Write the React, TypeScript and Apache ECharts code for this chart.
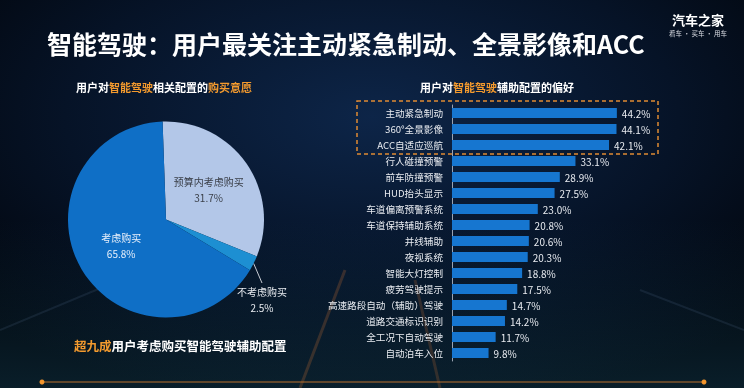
import React, { useEffect, useRef } from "react";
import * as echarts from "echarts";

const pieNames = ["预算内考虑购买", "不考虑购买", "考虑购买"];
const pieValues = [31.7, 2.5, 65.8];
const pieColors = ["#b3c7e8", "#1d8fd2", "#0f6fc6"];

const barCategories = [
  "主动紧急制动",
  "360°全景影像",
  "ACC自适应巡航",
  "行人碰撞预警",
  "前车防撞预警",
  "HUD抬头显示",
  "车道偏离预警系统",
  "车道保持辅助系统",
  "并线辅助",
  "夜视系统",
  "智能大灯控制",
  "疲劳驾驶提示",
  "高速路段自动（辅助）驾驶",
  "道路交通标识识别",
  "全工况下自动驾驶",
  "自动泊车入位",
];
const barValues = [44.2, 44.1, 42.1, 33.1, 28.9, 27.5, 23.0, 20.8, 20.6, 20.3, 18.8, 17.5, 14.7, 14.2, 11.7, 9.8];

const FONT = '"Noto Sans CJK SC", "Noto Sans", sans-serif';
const ORANGE = "#f39a2e";

export default function App() {
  const ref = useRef<HTMLDivElement>(null);
  useEffect(() => {
    if (!ref.current) return;
    const chart = echarts.init(ref.current, undefined, { renderer: "svg" });
    chart.setOption({
      animation: false,
      backgroundColor: {
        type: "radial",
        x: 0.5,
        y: 0.3,
        r: 0.75,
        colorStops: [
          { offset: 0, color: "#0d2548" },
          { offset: 0.55, color: "#061327" },
          { offset: 1, color: "#010307" },
        ],
      },
      textStyle: { fontFamily: FONT },
      graphic: [
        {
          type: "rect",
          silent: true,
          z: -10,
          shape: { x: 0, y: 220, width: 744, height: 168 },
          style: {
            fill: {
              type: "linear",
              x: 0,
              y: 0,
              x2: 0,
              y2: 1,
              colorStops: [
                { offset: 0, color: "rgba(20,70,100,0)" },
                { offset: 1, color: "rgba(25,80,105,0.35)" },
              ],
            },
          },
        },
        { type: "line", silent: true, z: -9, shape: { x1: 300, y1: 388, x2: 345, y2: 270 }, style: { stroke: "rgba(200,110,50,0.25)", lineWidth: 3 } },
        { type: "line", silent: true, z: -9, shape: { x1: 440, y1: 388, x2: 415, y2: 280 }, style: { stroke: "rgba(200,110,50,0.22)", lineWidth: 3 } },
        { type: "line", silent: true, z: -9, shape: { x1: 0, y1: 330, x2: 120, y2: 280 }, style: { stroke: "rgba(120,160,200,0.12)", lineWidth: 2 } },
        { type: "line", silent: true, z: -9, shape: { x1: 744, y1: 330, x2: 640, y2: 290 }, style: { stroke: "rgba(120,160,200,0.12)", lineWidth: 2 } },
        {
          type: "text",
          x: 47,
          y: 43,
          style: {
            text: "智能驾驶：用户最关注主动紧急制动、全景影像和ACC",
            fill: "#ffffff",
            font: `bold 25px ${FONT}`,
            verticalAlign: "middle",
          },
        },
        {
          type: "text",
          x: 698,
          y: 19,
          style: { text: "汽车之家", fill: "#ffffff", font: `bold 13px ${FONT}`, align: "center", verticalAlign: "middle" },
        },
        {
          type: "text",
          x: 698,
          y: 33,
          style: { text: "看车 · 买车 · 用车", fill: "#d8dbe2", font: `6.5px ${FONT}`, align: "center", verticalAlign: "middle" },
        },
        {
          type: "text",
          x: 164,
          y: 87,
          style: {
            text: "用户对{o|智能驾驶}相关配置的{o|购买意愿}",
            fill: "#ffffff",
            font: `bold 11px ${FONT}`,
            align: "center",
            verticalAlign: "middle",
            rich: { o: { fill: ORANGE, font: `bold 11px ${FONT}` } },
          },
        },
        {
          type: "text",
          x: 497,
          y: 87,
          style: {
            text: "用户对{o|智能驾驶}辅助配置的偏好",
            fill: "#ffffff",
            font: `bold 11px ${FONT}`,
            align: "center",
            verticalAlign: "middle",
            rich: { o: { fill: ORANGE, font: `bold 11px ${FONT}` } },
          },
        },
        {
          type: "text",
          x: 74,
          y: 345,
          style: {
            text: "{o|超九成}用户考虑购买智能驾驶辅助配置",
            fill: "#ffffff",
            font: `bold 12.5px ${FONT}`,
            verticalAlign: "middle",
            rich: { o: { fill: ORANGE, font: `bold 12.5px ${FONT}` } },
          },
        },
        {
          type: "rect",
          shape: { x: 357, y: 101, width: 301, height: 53 },
          style: { fill: "none", stroke: "#e08a33", lineWidth: 1.5, lineDash: [4, 3] },
        },
        { type: "line", shape: { x1: 42, y1: 382, x2: 704, y2: 382 }, style: { stroke: "#b8702f", lineWidth: 1 } },
        { type: "circle", shape: { cx: 42, cy: 382, r: 2.5 }, style: { fill: "#f3952d" } },
        { type: "circle", shape: { cx: 704, cy: 382, r: 2.5 }, style: { fill: "#f3952d" } },
      ],
      grid: { left: 452, top: 105, width: 186.5, height: 256, containLabel: false },
      xAxis: { type: "value", min: 0, max: 50, show: false },
      yAxis: {
        type: "category",
        inverse: true,
        data: barCategories,
        axisLine: { show: true, lineStyle: { color: "#9aa3b2", width: 1 } },
        axisTick: { show: false },
        axisLabel: { color: "#e8ebf0", fontSize: 9.6, margin: 9, fontFamily: FONT },
      },
      series: [
        {
          type: "bar",
          data: barValues,
          barWidth: 10,
          itemStyle: { color: "#1676d0" },
          label: {
            show: true,
            position: "right",
            distance: 5,
            color: "#e8ebf0",
            fontSize: 10,
            fontFamily: FONT,
            formatter: (p: any) => `${Number(p.value).toFixed(1)}%`,
          },
        },
        {
          type: "pie",
          center: [166, 219.5],
          radius: 98,
          startAngle: 92,
          clockwise: true,
          data: pieNames.map((n, i) => ({
            name: n,
            value: pieValues[i],
            itemStyle: { color: pieColors[i] },
            label:
              i === 1
                ? { position: "outside", color: "#e8ebf0" }
                : { position: "inside", color: i === 0 ? "#3a3f48" : "#e8f0fb" },
            labelLine: i === 1 ? { show: true, length: 10, length2: 0, lineStyle: { color: "#c8ccd4", width: 1 } } : { show: false },
          })),
          label: {
            show: true,
            fontSize: 10,
            lineHeight: 16,
            fontFamily: FONT,
            formatter: (p: any) => `${p.name}\n${Number(p.value).toFixed(1)}%`,
          },
          labelLayout: (p: any) => {
            if (p.dataIndex === 1) {
              return { x: 262, y: 299, align: "center", verticalAlign: "middle" };
            }
            return {};
          },
        },
      ],
    });
    return () => chart.dispose();
  }, []);
  return <div ref={ref} style={{ position: "fixed", left: 0, top: 0, width: 744, height: 388 }} />;
}
